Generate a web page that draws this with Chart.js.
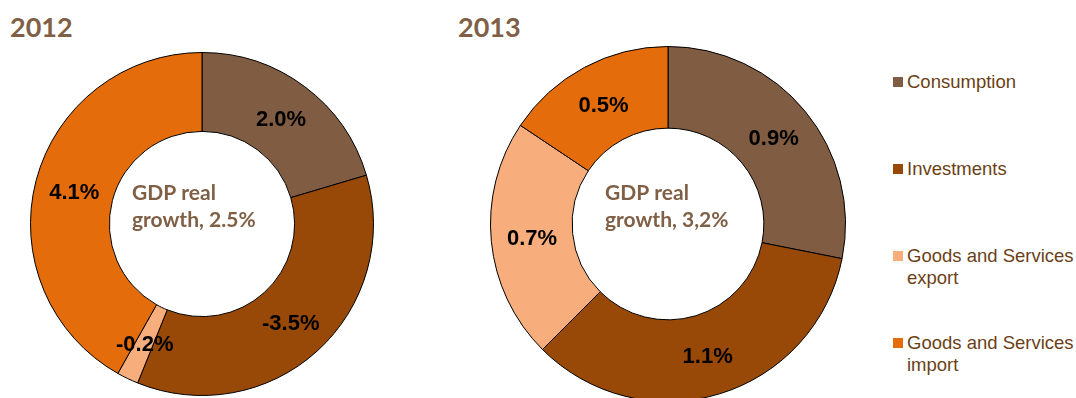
<!DOCTYPE html>
<html>
<head>
<meta charset="utf-8">
<script src="https://cdn.jsdelivr.net/npm/chart.js@4/dist/chart.umd.min.js"></script>
<style>
  html, body { margin: 0; padding: 0; background: #fff; }
  body { width: 1076px; height: 398px; position: relative; overflow: hidden; }
  .year { position: absolute; font: bold 27px Lato, sans-serif; color: #7f5f45; }
  .box { position: absolute; }
  .legend { position: absolute; left: 893px; top: 0; font: 18.5px "Liberation Sans", Arial, sans-serif; color: #6b3f16; }
  .item { position: absolute; left: 0; white-space: nowrap; line-height: 22px; }
  .item i { position: absolute; left: 0; top: 6px; width: 10px; height: 10px; }
  .item span { display: block; margin-left: 14px; }
</style>
</head>
<body>
<div class="year" style="left:10px; top:10px;">2012</div>
<div class="year" style="left:458px; top:10px;">2013</div>

<div class="box" style="left:30px; top:52px; width:344px; height:344px;"><canvas id="c2012"></canvas></div>
<div class="box" style="left:490px; top:46px; width:356px; height:356px;"><canvas id="c2013"></canvas></div>

<div class="legend" id="legend"></div>

<script>
const categories = ['Consumption', 'Investments', 'Goods and Services export', 'Goods and Services import'];
const legendLines = [['Consumption'], ['Investments'], ['Goods and Services', 'export'], ['Goods and Services', 'import']];
const colors = ['#7f5c42', '#984807', '#f8ad7c', '#e46c0a'];

// contribution to real GDP growth, percentage points
const values2012 = [2.0, -3.5, -0.2, 4.1];
const values2013 = [0.9, 1.1, 0.7, 0.5];
const centerText2012 = ['GDP real', 'growth, 2.5%'];
const centerText2013 = ['GDP real', 'growth, 3,2%'];

// slice labels + text in the hole
const donutText = {
  id: 'donutText',
  afterDatasetsDraw(chart, args, opts) {
    const ctx = chart.ctx;
    const meta = chart.getDatasetMeta(0);
    const raw = chart.data.datasets[0].raw;
    ctx.save();
    ctx.font = 'bold 22px "Liberation Sans", Arial, sans-serif';
    ctx.fillStyle = '#000';
    ctx.textAlign = 'center';
    ctx.textBaseline = 'middle';
    meta.data.forEach((arc, i) => {
      const p = arc.tooltipPosition();
      ctx.fillText(raw[i].toFixed(1) + '%', p.x, p.y + 2);
    });
    const a = meta.data[0];
    ctx.font = 'bold 21px Lato, sans-serif';
    ctx.fillStyle = '#7f5f45';
    ctx.textAlign = 'left';
    ctx.textBaseline = 'alphabetic';
    const x0 = a.x + opts.textX;
    ctx.fillText(opts.lines[0], x0, a.y - 24);
    ctx.fillText(opts.lines[1], x0, a.y + 3);
    ctx.restore();
  }
};

function makeDonut(id, values, lines, textX) {
  return new Chart(document.getElementById(id), {
    type: 'doughnut',
    data: {
      labels: categories,
      datasets: [{
        data: values.map(v => Math.abs(v)),
        raw: values,
        backgroundColor: colors,
        borderColor: '#000',
        borderWidth: 1
      }]
    },
    options: {
      responsive: true,
      maintainAspectRatio: false,
      animation: false,
      cutout: '54%',
      layout: { padding: 0 },
      plugins: {
        legend: { display: false },
        tooltip: { enabled: false },
        donutText: { lines: lines, textX: textX }
      }
    },
    plugins: [donutText]
  });
}

makeDonut('c2012', values2012, centerText2012, -70);
makeDonut('c2013', values2013, centerText2013, -63);

// legend on the right
const legendTops = [71, 158, 245, 332];
const legend = document.getElementById('legend');
categories.forEach((name, i) => {
  const el = document.createElement('div');
  el.className = 'item';
  el.style.top = legendTops[i] + 'px';
  el.innerHTML = '<i style="background:' + colors[i] + '"></i><span>' + legendLines[i].join('<br>') + '</span>';
  legend.appendChild(el);
});
</script>
</body>
</html>
